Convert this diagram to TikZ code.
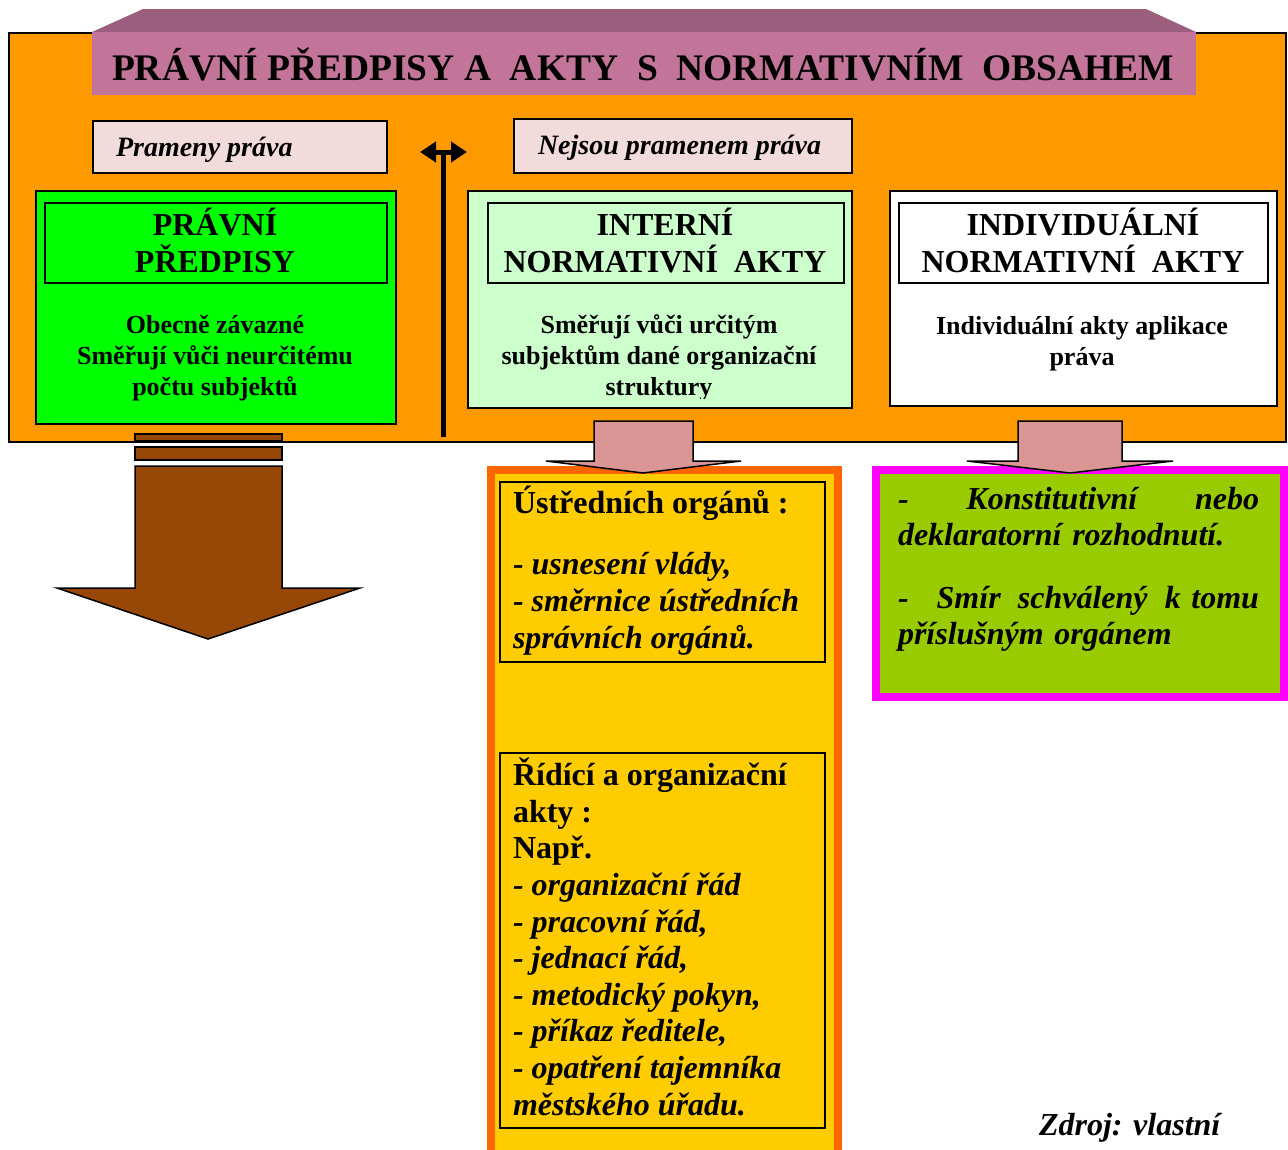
\documentclass[tikz,border=0pt]{standalone}
\usepackage{fontspec}
\setmainfont{Liberation Serif}
\usetikzlibrary{arrows.meta}
\definecolor{bgorange}{HTML}{FF9900}
\definecolor{bannerfront}{HTML}{C27499}
\definecolor{bannertop}{HTML}{9B5E7D}
\definecolor{labelpink}{HTML}{F2DCDB}
\definecolor{lawgreen}{HTML}{00FF00}
\definecolor{palegreen}{HTML}{CCFFCC}
\definecolor{arrowbrown}{HTML}{984806}
\definecolor{arrowpink}{HTML}{D99694}
\definecolor{edgeorange}{HTML}{FF6600}
\definecolor{fillyellow}{HTML}{FFCC00}
\definecolor{edgemagenta}{HTML}{FF00FF}
\definecolor{fillolive}{HTML}{99CC00}
\newcommand{\fnttitle}{\bfseries\fontsize{37.5}{42}\selectfont}
\newcommand{\fnthead}{\bfseries\fontsize{32}{37}\selectfont}
\newcommand{\fntbody}{\bfseries\fontsize{26}{31}\selectfont}
\newcommand{\fntlabel}{\bfseries\itshape\fontsize{28}{32}\selectfont}
\newcommand{\fntlist}{\bfseries\fontsize{32}{36.6}\selectfont}

\begin{document}
\begin{tikzpicture}[x=1pt, y=-1pt, line width=2pt,
    panel/.style={draw, anchor=north west, inner sep=0pt},
    headbox/.style={draw, line width=1.5pt, anchor=north west, inner sep=0pt},
    blockarrow/.style={draw, line width=1.5pt, line join=miter}]
  \useasboundingbox (0,0) rectangle (1288,1149);
  \fill[white] (0,0) rectangle (1288,1149);
  % Orange frame with the title banner
  \node[panel, fill=bgorange, minimum width=1277pt, minimum height=409pt] (frame) at (8,32) {};
  \fill[bannertop] (143,9) -- (1146,9) -- (1196,32) -- (92,32) -- cycle;
  \fill[bannerfront] (92,32) rectangle (1196,95);
  \node[anchor=base, font=\fnttitle, inner sep=0pt] (title) at (643,80)
    {PRÁVNÍ PŘEDPISY A\ \ AKTY\ \ S\ \ NORMATIVNÍM\ \ OBSAHEM};
  % Labels above the columns
  \node[panel, fill=labelpink, minimum width=294pt, minimum height=52pt] (prameny) at (92,120) {};
  \node[anchor=base west, font=\fntlabel, inner sep=0pt] (pramenytxt) at (115,156) {Prameny práva};
  \node[panel, fill=labelpink, minimum width=338pt, minimum height=54pt] (nejsou) at (513,118) {};
  \node[anchor=base west, font=\fntlabel, inner sep=0pt] (nejsoutxt) at (537,154) {Nejsou pramenem práva};
  % Divider with double arrow
  \coordinate (divtop) at (443,150);
  \coordinate (divbot) at (443,437);
  \coordinate (divl) at (420,152);
  \coordinate (divr) at (467,152);
  \draw[line width=5pt] (divbot) -- (divtop);
  \draw[line width=5pt, {Triangle[length=16pt,width=20pt]}-{Triangle[length=16pt,width=20pt]}] (divl) -- (divr);
  % Column 1: legal regulations (base = last line)
  \node[panel, fill=lawgreen, minimum width=360pt, minimum height=233pt] (pravni) at (35,190) {};
  \node[headbox, minimum width=342pt, minimum height=80pt] (pravnihead) at (44,202) {};
  \node[anchor=base, align=center, font=\fnthead, inner sep=0pt] (pravnititle) at (215,272) {PRÁVNÍ\\PŘEDPISY};
  \node[anchor=base, align=center, font=\fntbody, inner sep=0pt] (pravnitext) at (215,395)
    {Obecně závazné\\Směřují vůči neurčitému\\počtu subjektů};
  % Column 2: internal normative acts
  \node[panel, fill=palegreen, minimum width=384pt, minimum height=217pt] (interni) at (467,190) {};
  \node[headbox, minimum width=356pt, minimum height=80pt] (internihead) at (487,202) {};
  \node[anchor=base, align=center, font=\fnthead, inner sep=0pt] (internititle) at (665,272) {INTERNÍ\\NORMATIVNÍ\ \ AKTY};
  \begin{scope}
    \clip (467,190) rectangle (851,398);
    \node[anchor=base, align=center, font=\fntbody, inner sep=0pt] (internitext) at (659,395)
      {Směřují vůči určitým\\subjektům dané organizační\\struktury};
  \end{scope}
  % Column 3: individual normative acts
  \node[panel, fill=white, minimum width=387pt, minimum height=215pt] (indiv) at (889,190) {};
  \node[headbox, minimum width=369pt, minimum height=80pt] (indivhead) at (898,202) {};
  \node[anchor=base, align=center, font=\fnthead, inner sep=0pt] (indivtitle) at (1083,272) {INDIVIDUÁLNÍ\\NORMATIVNÍ\ \ AKTY};
  \node[anchor=base, align=center, font=\fntbody, inner sep=0pt] (indivtext) at (1082,365)
    {Individuální akty aplikace\\práva};
  % Brown arrow out of column 1
  \draw[fill=arrowbrown, line width=1.5pt] (135,434) rectangle (282,441);
  \draw[fill=arrowbrown, line width=1.5pt] (135,447) rectangle (282,460);
  \draw[blockarrow, fill=arrowbrown] (135,466) -- (282,466) -- (282,588) -- (360,588)
    -- (208,639) -- (57,588) -- (135,588) -- cycle;
  % Column 2 detail box
  \node[panel, draw=edgeorange, line width=8pt, fill=fillyellow, minimum width=347pt, minimum height=690pt] (ustredni) at (487,466) {};
  \node[headbox, minimum width=325pt, minimum height=180pt] (ustrednibox) at (499,481) {};
  \node[anchor=base west, align=left, font=\fntlist, inner sep=0pt] (ustrednitxt) at (512,648)
    {Ústředních orgánů :\\[25pt]\itshape - usnesení vlády,\\\itshape - směrnice ústředních\\\itshape správních orgánů.};
  \node[headbox, minimum width=325pt, minimum height=375pt] (ridicibox) at (499,752) {};
  \node[anchor=base west, align=left, font=\fntlist, inner sep=0pt] (ridicitxt) at (512,1115)
    {Řídící a organizační\\akty :\\Např.\\\itshape - organizační řád\\\itshape - pracovní řád,\\\itshape - jednací řád,\\\itshape - metodický pokyn,\\\itshape - příkaz ředitele,\\\itshape - opatření tajemníka\\\itshape městského úřadu.};
  % Column 3 detail box
  \node[panel, draw=edgemagenta, line width=8pt, fill=fillolive, minimum width=408pt, minimum height=227pt] (rozhodnuti) at (872,466) {};
  \node[anchor=base west, align=left, text width=361pt, font=\fntlist\itshape, inner sep=0pt] (rozhodnutitxt) at (897,509)
    {\makebox[361pt][l]{-\hfill Konstitutivní\hfill nebo}\\deklaratorní rozhodnutí.\\[26pt]\makebox[361pt][l]{-\hspace{28pt}Smír\hfill schválený\hfill k tomu}\\příslušným orgánem};
  % Pink arrows into the detail boxes
  \draw[blockarrow, fill=arrowpink] (594,421) -- (693,421) -- (693,461) -- (741,461)
    -- (643,473) -- (546,461) -- (594,461) -- cycle;
  \draw[blockarrow, fill=arrowpink] (1018,421) -- (1122,421) -- (1122,461) -- (1173,461)
    -- (1070,473) -- (967,461) -- (1018,461) -- cycle;
  % Source
  \node[anchor=base west, font=\fntlist\itshape, inner sep=0pt] (zdroj) at (1038,1135) {Zdroj: vlastní};
\end{tikzpicture}
\end{document}
